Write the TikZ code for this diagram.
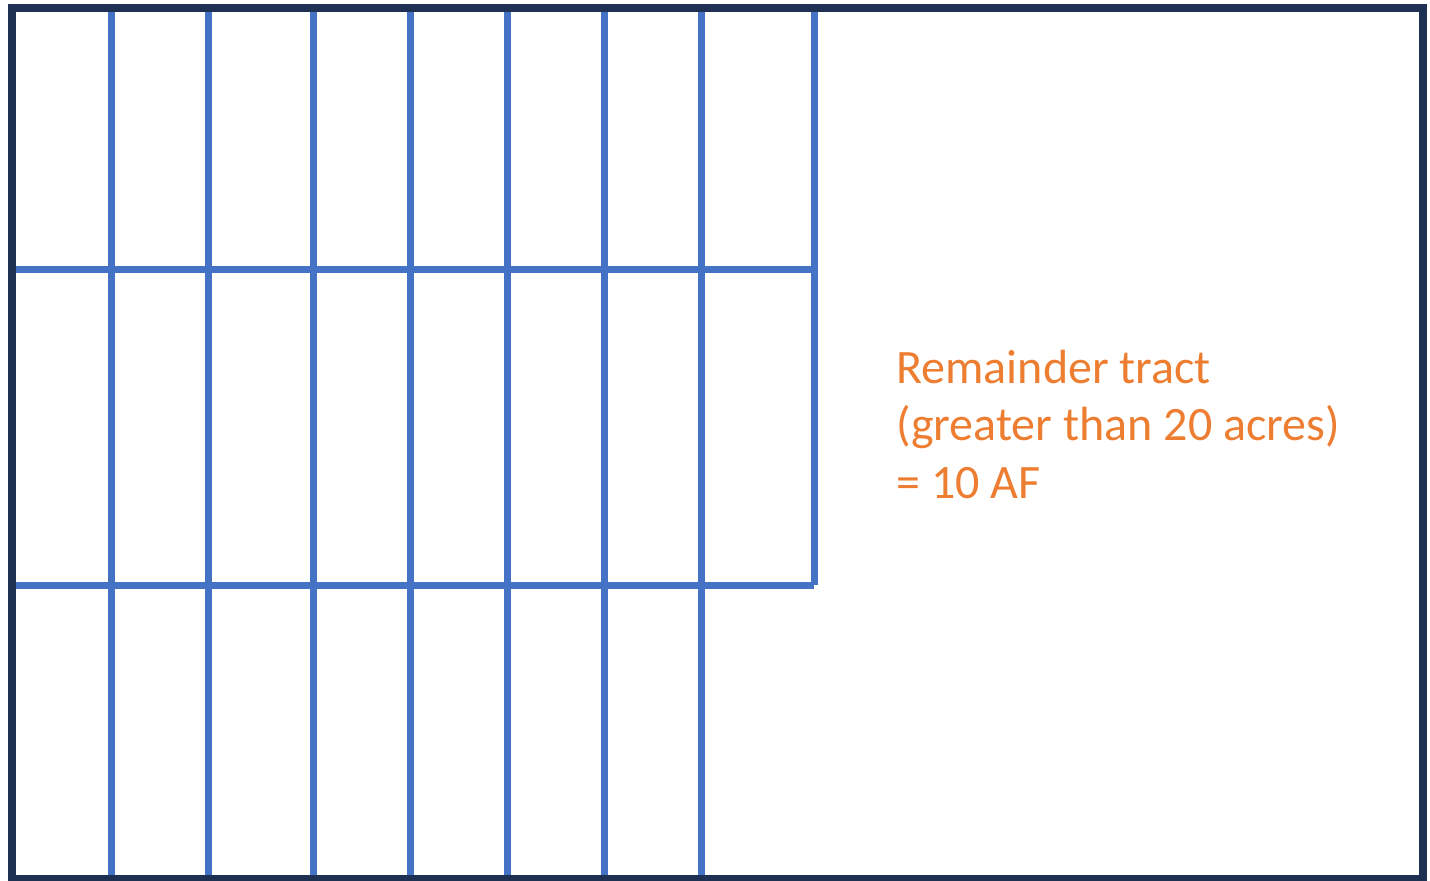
\documentclass[tikz,border=0pt]{standalone}
\usepackage{fontspec}
\setmainfont{Carlito}
\usetikzlibrary{positioning}

\definecolor{tractnavy}{HTML}{1F3152}
\definecolor{lotblue}{HTML}{4472C4}
\definecolor{notecolor}{HTML}{ED7D31}

\begin{document}
\begin{tikzpicture}[
    x=0.5pt,
    y=-0.5pt,
    boundary/.style={
        draw=tractnavy,
        line width=4pt
    },
    lotline/.style={
        draw=lotblue,
        line width=3.5pt
    },
    note/.style={
        text=notecolor,
        align=left,
        inner sep=0pt,
        font=\fontsize{24}{28.75}\selectfont
    }
]
\useasboundingbox (0,0) rectangle (1430,880);

% --- Lot lines ---
\foreach \xx in {111,208,313,410,507,604,701}
    \draw[lotline] (\xx,8) -- (\xx,880);
\draw[lotline] (814,8) -- (814,585);
\draw[lotline] (16,269) -- (814,269);
\draw[lotline] (16,585) -- (814,585);

% --- Parcel boundary ---
\draw[boundary] (12,8) rectangle (1423,879);

% --- Remainder label ---
\node[note, anchor=base west] (remainder) at (896,498) {Remainder tract\\(greater than 20 acres)\\= 10 AF};

\end{tikzpicture}
\end{document}
